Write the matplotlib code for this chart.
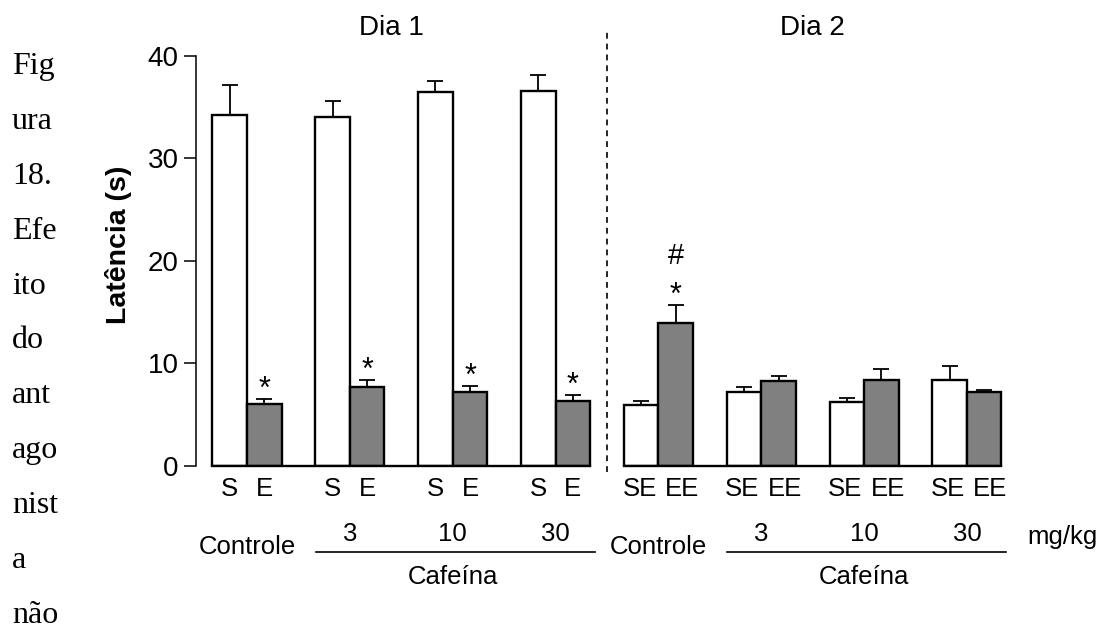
import numpy as np
import matplotlib
matplotlib.use('Agg')
from matplotlib import pyplot as plt

plt.rcParams['font.family'] = ['Liberation Sans', 'DejaVu Sans']

# data
grupos   = ['Controle', '3', '10', '30']
dia1_s   = [34.2, 34.0, 36.5, 36.6]
dia1_s_e = [3.0, 1.6, 1.1, 1.55]
dia1_e   = [6.0, 7.65, 7.15, 6.3]
dia1_e_e = [0.5, 0.75, 0.6, 0.6]
dia2_se   = [5.95, 7.15, 6.25, 8.4]
dia2_se_e = [0.4, 0.55, 0.35, 1.35]
dia2_ee   = [13.9, 8.25, 8.4, 7.15]
dia2_ee_e = [1.8, 0.55, 1.0, 0.25]
lab1 = ['S', 'E']
lab2 = ['SE', 'EE']
legenda = ['Fig', 'ura', '18.', 'Efe', 'ito', 'do', 'ant', 'ago', 'nist', 'a', 'não']

branco = np.array(dia1_s + dia2_se)
branco_err = np.array(dia1_s_e + dia2_se_e)
cinza = np.array(dia1_e + dia2_ee)
cinza_err = np.array(dia1_e_e + dia2_ee_e)
sig_star = [True, True, True, True, True, False, False, False]   # '*' above gray bar
sig_hash = [False, False, False, False, True, False, False, False]  # '#' above gray bar

w = 0.336
x = np.arange(8)

fig = plt.figure(figsize=(11.02, 6.28), dpi=100)
ax = fig.add_axes([0.1779, 0.2584, 0.7387, 0.6524])

ax.bar(x - w/2, branco, w, color='white', edgecolor='black', linewidth=1.7, zorder=3)
ax.bar(x + w/2, cinza, w, color='#808080', edgecolor='black', linewidth=1.7, zorder=3)
ax.errorbar(x - w/2, branco, yerr=[np.zeros(8), branco_err], fmt='none', ecolor='black',
            elinewidth=1.3, capsize=6, capthick=1.3, zorder=2)
ax.errorbar(x + w/2, cinza, yerr=[np.zeros(8), cinza_err], fmt='none', ecolor='black',
            elinewidth=1.3, capsize=6, capthick=1.3, zorder=2)

for i in range(8):
    top = cinza[i] + cinza_err[i]
    if sig_star[i]:
        ax.text(i + w/2, top + 0.1, '*', ha='center', va='baseline', fontsize=22, clip_on=False)
    if sig_hash[i]:
        ax.text(i + w/2, top + 4.0, '#', ha='center', va='baseline', fontsize=21, clip_on=False)

ax.set_xlim(-0.496, 7.42)
ax.set_ylim(0, 40)
ax.set_yticks([0, 10, 20, 30, 40])
ax.tick_params(axis='y', length=8.6, width=1.1, pad=4, labelsize=20)
for s in ['top', 'right', 'bottom']:
    ax.spines[s].set_visible(False)
ax.spines['left'].set_linewidth(1.1)

# S/E labels as x ticks (day 2 pairs are spread a little so "SE EE" reads apart)
pos_s = x - w/2 - np.where(x >= 4, 0.015, 0.0)
pos_e = x + w/2 + np.where(x >= 4, 0.06, 0.0)
centros = np.ravel(np.column_stack([pos_s, pos_e]))
ax.set_xticks(centros)
ax.set_xticklabels(lab1 * 4 + lab2 * 4)
ax.tick_params(axis='x', length=0, pad=8, labelsize=18.5)

# baseline per day
ax.plot([-w, 3 + w], [0, 0], color='black', lw=1.7, clip_on=False, zorder=4)
ax.plot([4 - w, 7 + w], [0, 0], color='black', lw=1.7, clip_on=False, zorder=4)

# divider between days
ax.plot([3.5, 3.5], [-0.6, 42.7], color='black', lw=1.2, ls=(0, (3.5, 3)), clip_on=False)

ax.text(1.4, 42.7, 'Dia 1', ha='center', va='center', fontsize=20, clip_on=False)
ax.text(5.5, 42.7, 'Dia 2', ha='center', va='center', fontsize=20, clip_on=False)

for d in range(2):
    g0 = 4 * d
    ax.text(g0, -7.94, grupos[0], ha='center', va='center', fontsize=18.5, clip_on=False)
    for j in range(1, 4):
        ax.text(g0 + j, -6.67, grupos[j], ha='center', va='center', fontsize=18.5, clip_on=False)
    ax.plot([g0 + 1 - 0.33, g0 + 3 + 0.38], [-8.43, -8.43], color='black', lw=1.2, clip_on=False)
    ax.text(g0 + 2.0, -10.87, 'Cafeína', ha='center', va='center', fontsize=18.5, clip_on=False)
ax.text(7.93, -6.96, 'mg/kg', ha='center', va='center', fontsize=18.5, clip_on=False)

fig.text(119/1102, 1 - 245/628, 'Latência (s)', rotation=90, ha='center', va='center',
         fontsize=20.5, fontweight='bold')

for k, t in enumerate(legenda):
    fig.text(12/1102, 1 - (74 + 54.9*k)/628, t, ha='left', va='baseline',
             fontsize=23, family='Liberation Serif')

fig.savefig('out.png', dpi=100)
